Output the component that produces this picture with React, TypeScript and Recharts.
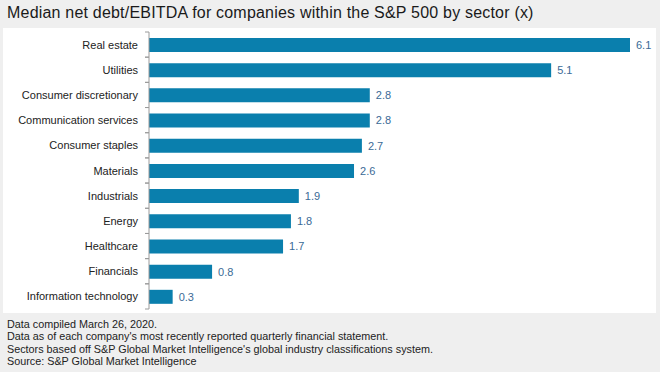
import { BarChart, Bar, XAxis, YAxis, LabelList, ReferenceLine } from "recharts";

const SECTORS = [
  "Real estate",
  "Utilities",
  "Consumer discretionary",
  "Communication services",
  "Consumer staples",
  "Materials",
  "Industrials",
  "Energy",
  "Healthcare",
  "Financials",
  "Information technology",
];

const DEBT_TO_EBITDA = [6.1, 5.1, 2.8, 2.8, 2.7, 2.6, 1.9, 1.8, 1.7, 0.8, 0.3];

const FOOTNOTES = [
  "Data compiled March 26, 2020.",
  "Data as of each company's most recently reported quarterly financial statement.",
  "Sectors based off S&P Global Market Intelligence's global industry classifications system.",
  "Source: S&P Global Market Intelligence",
];

const FONT = '"Liberation Sans", Arial, sans-serif';
const BAR_COLOR = "#0a7fad";
const LABEL_COLOR = "#3a6a96";
const AXIS_COLOR = "#9a9a9a";
const CHART_W = 653;
const CHART_H = 285;
const MARGIN = { top: 4, right: 26, bottom: 4, left: 0 };

const rows = SECTORS.map((sector, i) => ({ sector, value: DEBT_TO_EBITDA[i] }));

// band height of one category, used to put the small tick marks between rows
const BAND = (CHART_H - MARGIN.top - MARGIN.bottom) / SECTORS.length;

function SectorTick(props: any) {
  const { x, y, payload } = props;
  return (
    <g>
      <text
        x={x - 11}
        y={y}
        dy={4}
        textAnchor="end"
        fontSize={11}
        fontFamily={FONT}
        fill="#222"
      >
        {payload.value}
      </text>
      <line x1={x - 4} x2={x} y1={y - BAND / 2} y2={y - BAND / 2} stroke={AXIS_COLOR} />
      <line x1={x - 4} x2={x} y1={y + BAND / 2} y2={y + BAND / 2} stroke={AXIS_COLOR} />
    </g>
  );
}

export default function App() {
  return (
    <div
      style={{
        width: 660,
        height: 372,
        background: "#efefef",
        position: "relative",
        fontFamily: FONT,
        overflow: "hidden",
      }}
    >
      <style>{"body{margin:0}"}</style>
      <div
        style={{
          position: "absolute",
          left: 7,
          top: 4,
          fontSize: 16,
          letterSpacing: 0.2,
          color: "#1a1a1a",
          whiteSpace: "nowrap",
        }}
      >
        Median net debt/EBITDA for companies within the S&amp;P 500 by sector (x)
      </div>
      <div
        style={{
          position: "absolute",
          left: 3,
          top: 28,
          width: CHART_W,
          height: CHART_H,
          background: "#fff",
        }}
      >
        <BarChart
          width={CHART_W}
          height={CHART_H}
          data={rows}
          layout="vertical"
          margin={MARGIN}
          barSize={14}
        >
          <XAxis type="number" domain={[0, 6.1]} hide />
          <YAxis
            type="category"
            dataKey="sector"
            width={146}
            axisLine={false}
            tickLine={false}
            tickSize={0}
            tickMargin={0}
            tick={<SectorTick />}
            interval={0}
          />
          <Bar dataKey="value" fill={BAR_COLOR} isAnimationActive={false}>
            <LabelList
              dataKey="value"
              position="right"
              offset={6}
              fill={LABEL_COLOR}
              fontSize={11}
              fontFamily={FONT}
              formatter={(v: any) => Number(v).toFixed(1)}
            />
          </Bar>
          <ReferenceLine x={0} stroke={AXIS_COLOR} strokeWidth={1} />
        </BarChart>
      </div>
      <div
        style={{
          position: "absolute",
          left: 7,
          top: 318,
          fontSize: 10.8,
          lineHeight: "12.3px",
          color: "#222",
          whiteSpace: "nowrap",
        }}
      >
        {FOOTNOTES.map((t) => (
          <div key={t}>{t}</div>
        ))}
      </div>
    </div>
  );
}
